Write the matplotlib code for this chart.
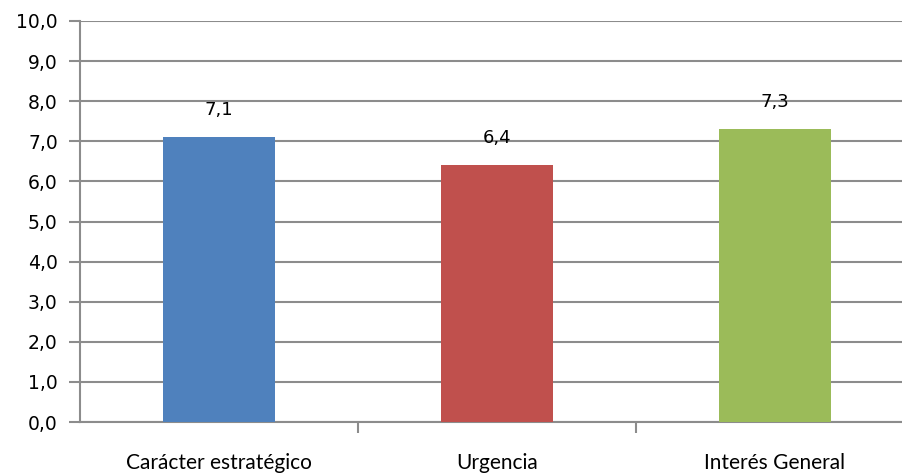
import matplotlib.pyplot as plt
from matplotlib.ticker import FixedLocator, FuncFormatter

categories = ["Carácter estratégico", "Urgencia", "Interés General"]
values = [7.1, 6.4, 7.3]
colors = ["#4F81BD", "#C0504D", "#9BBB59"]
yticks = [0, 1, 2, 3, 4, 5, 6, 7, 8, 9, 10]

plt.rcParams["font.family"] = "DejaVu Sans"

fig = plt.figure(figsize=(9.03, 4.76), dpi=100)
ax = fig.add_axes([80 / 903, 1 - 422 / 476, 834 / 903, 401 / 476])

x = list(range(len(categories)))
ax.bar(x, values, width=0.4, color=colors, zorder=3)

for xi, v in zip(x, values):
    ax.text(xi, v + 0.45, f"{v:.1f}".replace(".", ","), ha="center", va="bottom",
            fontsize=13, color="#000000")

ax.set_xlim(-0.5, 2.5)
ax.set_ylim(0, 10)
ax.set_yticks(yticks)
ax.yaxis.set_major_formatter(FuncFormatter(lambda v, p: f"{v:.1f}".replace(".", ",")))
ax.grid(axis="y", color="#8C8C8C", linewidth=1.5, zorder=0)

# category labels centred, ticks at the category boundaries
ax.set_xticks(x)
ax.set_xticklabels(categories, fontsize=15, family="Lato")
ax.tick_params(axis="x", length=0, pad=22)
ax.xaxis.set_minor_locator(FixedLocator([0.5, 1.5]))
ax.tick_params(axis="x", which="minor", length=8, width=1.5, color="#8C8C8C")
ax.tick_params(axis="y", length=8, width=1.5, color="#8C8C8C", labelsize=13.5, pad=8)

for side in ["top", "right"]:
    ax.spines[side].set_visible(False)
for side in ["left", "bottom"]:
    ax.spines[side].set_color("#8C8C8C")
    ax.spines[side].set_linewidth(1.5)

fig.savefig("out.png", dpi=100)
